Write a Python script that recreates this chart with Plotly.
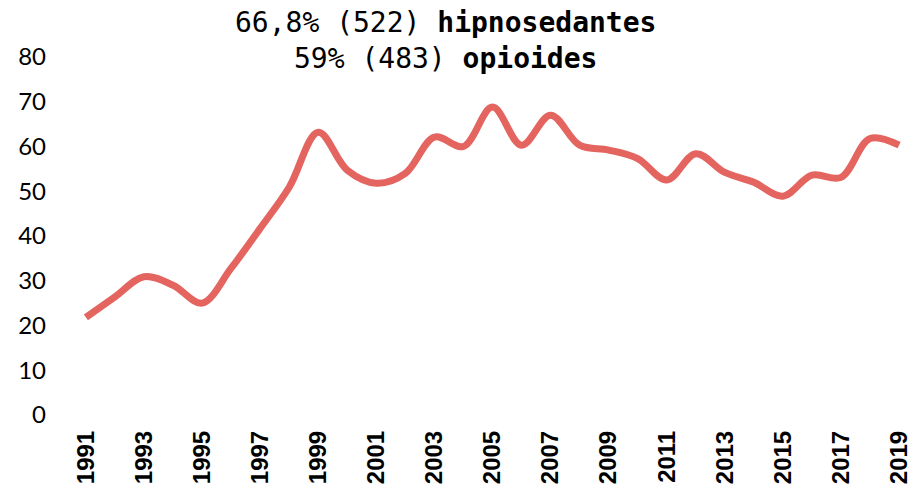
import plotly.graph_objects as go

years = list(range(1991, 2020))
values = [21.8, 26.4, 30.9, 29.0, 25.0, 32.8, 41.7, 50.9, 63.2, 54.7,
          51.8, 54.0, 62.1, 60.0, 68.8, 60.3, 67.0, 60.3, 59.2, 57.3,
          52.5, 58.4, 54.2, 52.0, 48.9, 53.6, 53.1, 61.8, 60.3]
tick_years = list(range(1991, 2020, 2))
tick_labels = [str(y) for y in tick_years]
y_ticks = list(range(0, 81, 10))
title_lines = ["66,8% (522) <b>hipnosedantes</b>", "59% (483) <b>opioides</b>"]

fig = go.Figure()
fig.add_trace(go.Scatter(
    x=years, y=values, mode="lines",
    line=dict(color="#E4645F", width=7, shape="spline", smoothing=1.0),
    hoverinfo="x+y", showlegend=False,
))

fig.update_layout(
    width=914, height=492,
    margin=dict(l=83, r=12, t=57, b=77, autoexpand=False),
    paper_bgcolor="white", plot_bgcolor="white",
    annotations=[dict(
        text="<br>".join(title_lines),
        xref="paper", yref="paper", x=0.443, y=1.045,
        xanchor="center", yanchor="middle", showarrow=False,
        font=dict(family="DejaVu Sans Mono", size=28, color="black"),
    )],
    xaxis=dict(
        range=[1990.9, 2019.1], tickmode="array", automargin=False,
        tickvals=tick_years, ticktext=tick_labels, tickangle=-90,
        tickfont=dict(family="Liberation Sans", size=24, color="black", weight="bold"),
        showgrid=False, zeroline=False, showline=False, ticks="",
        ticklabelstandoff=10,
    ),
    yaxis=dict(
        range=[0, 80], tickmode="array", tickvals=y_ticks, automargin=False,
        ticktext=[str(v) for v in y_ticks],
        tickfont=dict(family="Lato", size=24, color="black"),
        showgrid=False, zeroline=False, showline=False, ticks="",
        ticklabelstandoff=36,
    ),
)

fig.write_html("out.html", config={"displayModeBar": False},
               post_script="document.body.style.margin='0px';")
